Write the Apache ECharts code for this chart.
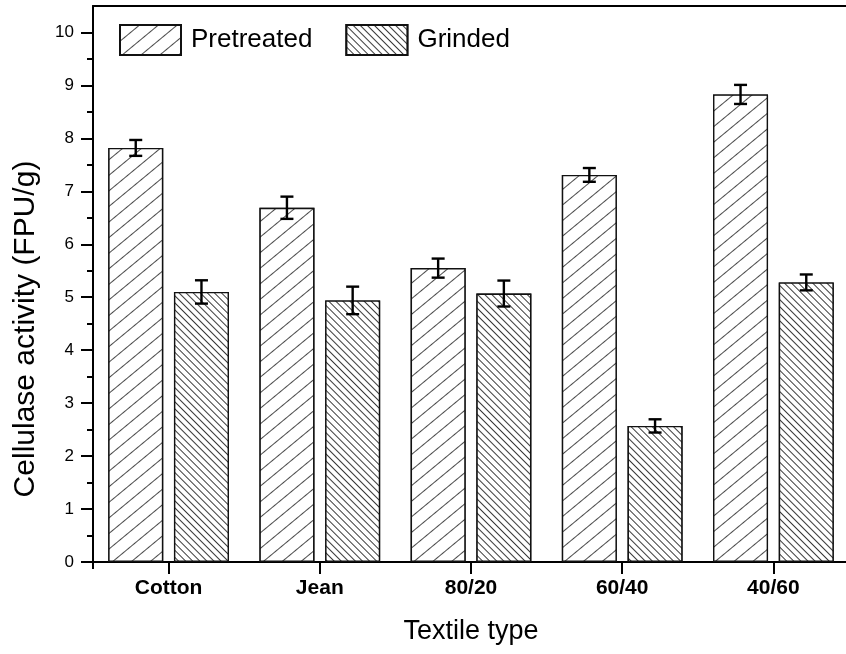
<!DOCTYPE html>
<html>
<head>
<meta charset="utf-8">
<script src="https://cdn.jsdelivr.net/npm/echarts@6/dist/echarts.min.js"></script>
<style>
  html, body { margin: 0; padding: 0; background: #fff; }
  #chart { width: 846px; height: 654px; }
</style>
</head>
<body>
<div id="chart"></div>
<script>
// Cellulase activity per textile type, two treatments, mean ± error
const categories = ['Cotton', 'Jean', '80/20', '60/40', '40/60'];
const pretreated = [7.82, 6.69, 5.55, 7.31, 8.83];
const pretreatedErr = [0.15, 0.21, 0.18, 0.13, 0.18];
const grinded = [5.10, 4.94, 5.07, 2.57, 5.28];
const grindedErr = [0.22, 0.26, 0.245, 0.125, 0.15];
const yTicks = [0, 1, 2, 3, 4, 5, 6, 7, 8, 9, 10];
const yMinorTicks = [0.5, 1.5, 2.5, 3.5, 4.5, 5.5, 6.5, 7.5, 8.5, 9.5];

const FONT = "'Liberation Sans', Arial, Helvetica, sans-serif";
const BAR_W = 55;
const BAR_GAP = 0.195;
const PAIR_OFFSET = (BAR_W + BAR_W * BAR_GAP) / 2;

const hatchPretreated = {
  symbol: 'rect', symbolSize: 1,
  dashArrayX: [1, 0], dashArrayY: [1, 10.5],
  rotation: -Math.PI * 0.22,
  color: '#4a4a4a', backgroundColor: '#ffffff'
};
const hatchGrinded = {
  symbol: 'rect', symbolSize: 1,
  dashArrayX: [1, 0], dashArrayY: [1, 4],
  rotation: Math.PI / 4,
  color: '#3a3a3a', backgroundColor: '#ffffff'
};

function errorData(values, errs) {
  return values.map((v, i) => [i, v, errs[i]]);
}

function errorRenderer(sign) {
  return function (params, api) {
    const i = api.value(0), v = api.value(1), e = api.value(2);
    const top = api.coord([i, v + e]);
    const bot = api.coord([i, v - e]);
    const x = top[0] + sign * PAIR_OFFSET;
    const cap = 6.5;
    const style = { stroke: '#000', lineWidth: 2.4 };
    return {
      type: 'group',
      children: [
        { type: 'line', shape: { x1: x, y1: top[1], x2: x, y2: bot[1] }, style },
        { type: 'line', shape: { x1: x - cap, y1: top[1], x2: x + cap, y2: top[1] }, style },
        { type: 'line', shape: { x1: x - cap, y1: bot[1], x2: x + cap, y2: bot[1] }, style }
      ]
    };
  };
}

const chart = echarts.init(document.getElementById('chart'), null, { renderer: 'canvas' });

chart.setOption({
  animation: false,
  backgroundColor: '#fff',
  textStyle: { fontFamily: FONT, color: '#000' },
  grid: { left: 93, top: 6, width: 756, height: 556, containLabel: false, outerBoundsMode: 'none' },
  legend: {
    left: 114, top: 19,
    itemWidth: 61, itemHeight: 30, itemGap: 33,
    icon: 'rect',
    selectedMode: false,
    textStyle: { fontFamily: FONT, fontSize: 26, color: '#000', padding: [0, 0, 0, 5] },
    data: ['Pretreated', 'Grinded']
  },
  xAxis: [
    {
      type: 'category', data: categories, position: 'bottom',
      name: 'Textile type', nameLocation: 'middle', nameGap: 56,
      nameTextStyle: { fontFamily: FONT, fontSize: 27, color: '#000' },
      axisLine: { show: true, lineStyle: { color: '#000', width: 2 } },
      axisTick: { show: true, alignWithLabel: true, inside: false, length: 12, lineStyle: { color: '#000', width: 2 } },
      axisLabel: { fontFamily: FONT, fontSize: 21, fontWeight: 'bold', color: '#000', margin: 16 },
      splitLine: { show: false }
    },
    {
      type: 'category', data: categories, position: 'bottom',
      axisLine: { show: false },
      axisTick: { show: true, alignWithLabel: false, length: 7, interval: (idx) => idx === 0, lineStyle: { color: '#000', width: 2 } },
      axisLabel: { show: false },
      splitLine: { show: false }
    },
    {
      type: 'category', data: categories, position: 'top',
      axisLine: { show: true, lineStyle: { color: '#000', width: 2 } },
      axisTick: { show: false },
      axisLabel: { show: false },
      splitLine: { show: false }
    }
  ],
  yAxis: [
    {
      type: 'value', min: 0, max: 10.5, interval: 1,
      name: 'Cellulase activity (FPU/g)', nameLocation: 'middle', nameGap: 52,
      nameTextStyle: { fontFamily: FONT, fontSize: 30, color: '#000', padding: [0, 90, 0, 0] },
      axisLine: { show: true, lineStyle: { color: '#000', width: 2 } },
      axisTick: { show: true, length: 12, customValues: yTicks, lineStyle: { color: '#000', width: 2 } },
      axisLabel: { fontFamily: FONT, fontSize: 17, color: '#000', margin: 19, customValues: yTicks },
      splitLine: { show: false }
    },
    {
      type: 'value', min: 0, max: 10.5, interval: 1, position: 'left',
      axisLine: { show: false },
      axisTick: { show: true, length: 6, customValues: yMinorTicks, lineStyle: { color: '#000', width: 2 } },
      axisLabel: { show: false },
      splitLine: { show: false }
    }
  ],
  series: [
    {
      name: 'Pretreated', type: 'bar', data: pretreated,
      barWidth: BAR_W, barGap: (BAR_GAP * 100) + '%',
      itemStyle: { color: '#fff', borderColor: '#111', borderWidth: 1.4, decal: hatchPretreated }
    },
    {
      name: 'Grinded', type: 'bar', data: grinded,
      barWidth: BAR_W,
      itemStyle: { color: '#fff', borderColor: '#111', borderWidth: 1.4, decal: hatchGrinded }
    },
    {
      name: 'Pretreated error', type: 'custom', z: 5,
      renderItem: errorRenderer(-1),
      encode: { x: 0, y: [1] },
      data: errorData(pretreated, pretreatedErr)
    },
    {
      name: 'Grinded error', type: 'custom', z: 5,
      renderItem: errorRenderer(1),
      encode: { x: 0, y: [1] },
      data: errorData(grinded, grindedErr)
    }
  ]
});
</script>
</body>
</html>
